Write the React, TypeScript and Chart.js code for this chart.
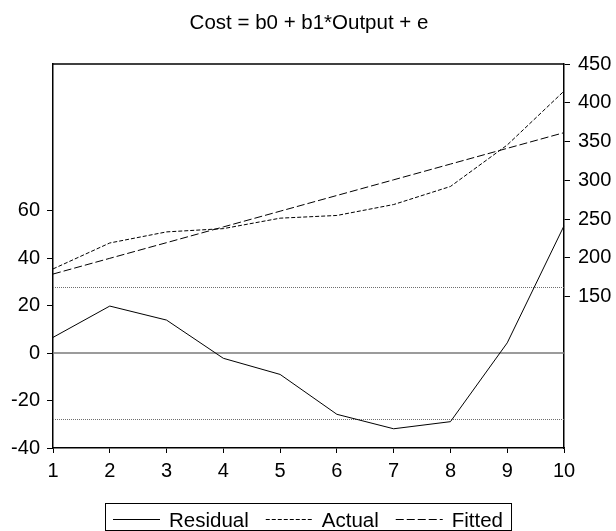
import React, { useEffect, useRef } from 'react';
import { Chart, registerables } from 'chart.js';

Chart.register(...registerables);

// ---------- data ----------
const categories = ['1', '2', '3', '4', '5', '6', '7', '8', '9', '10'];
const residual = [6.6, 19.8, 13.9, -2.2, -9.0, -25.8, -31.9, -28.9, 4.3, 53.6];
const actual = [185.6, 219.1, 233.4, 237.6, 251.1, 254.6, 268.7, 292.0, 345.5, 415.0];
const fitted = [179.0, 199.3, 219.5, 239.8, 260.1, 280.4, 300.6, 320.9, 341.2, 361.4];
const residualStdBand = 27.7;
const leftTicks = [-40, -20, 0, 20, 40, 60];
const rightTicks = [150, 200, 250, 300, 350, 400, 450];
const titleText = 'Cost = b0 + b1*Output + e';
const legendLabels = ['Residual', 'Actual', 'Fitted'];

const FONT_FAMILY = '"Liberation Sans", Arial, sans-serif';
const TICK_FONT_SIZE = 20;
const TEXT_FONT_SIZE = 20.5;
const dashes: number[][] = [[], [4, 2], [8, 3]];

const overlayPlugin = {
  id: 'eviewsOverlay',
  beforeDatasetsDraw(chart: any) {
    const { ctx, chartArea } = chart;
    const yL = chart.scales.yL;
    ctx.save();
    // zero line
    const y0 = yL.getPixelForValue(0);
    ctx.strokeStyle = '#7a7a7a';
    ctx.lineWidth = 1.5;
    ctx.setLineDash([]);
    ctx.beginPath();
    ctx.moveTo(chartArea.left, y0);
    ctx.lineTo(chartArea.right, y0);
    ctx.stroke();
    // +/- std band lines
    ctx.strokeStyle = '#6e6e6e';
    ctx.lineWidth = 1;
    ctx.setLineDash([1, 1]);
    [residualStdBand, -residualStdBand].forEach((v) => {
      const y = Math.round(yL.getPixelForValue(v)) + 0.5;
      ctx.beginPath();
      ctx.moveTo(chartArea.left, y);
      ctx.lineTo(chartArea.right, y);
      ctx.stroke();
    });
    ctx.restore();
  },
  afterDraw(chart: any) {
    const { ctx, chartArea, width } = chart;
    ctx.save();
    // top frame line
    ctx.strokeStyle = '#000';
    ctx.lineWidth = 1.5;
    ctx.setLineDash([]);
    ctx.beginPath();
    ctx.moveTo(chartArea.left, chartArea.top);
    ctx.lineTo(chartArea.right, chartArea.top);
    ctx.stroke();

    // title
    ctx.fillStyle = '#000';
    ctx.font = `${TEXT_FONT_SIZE}px ${FONT_FAMILY}`;
    ctx.textAlign = 'center';
    ctx.textBaseline = 'alphabetic';
    ctx.fillText(titleText, 309, 29);

    // legend
    const lineLen = 47;
    const gapLineText = 9;
    const gapItems = 17;
    ctx.textAlign = 'left';
    const widths = legendLabels.map((l) => ctx.measureText(l).width);
    let total = 0;
    widths.forEach((w, i) => {
      total += lineLen + gapLineText + w + (i < widths.length - 1 ? gapItems : 0);
    });
    let x = Math.round(width / 2 - total / 2);
    const lineY = 519.5;
    const boxPad = 8;
    ctx.lineWidth = 1;
    ctx.strokeStyle = '#000';
    ctx.strokeRect(x - boxPad + 0.5, 503.5, total + boxPad * 2, 27);
    legendLabels.forEach((label, i) => {
      ctx.setLineDash(dashes[i]);
      ctx.beginPath();
      ctx.moveTo(x, lineY);
      ctx.lineTo(x + lineLen, lineY);
      ctx.stroke();
      ctx.setLineDash([]);
      ctx.fillText(label, x + lineLen + gapLineText, 527);
      x += lineLen + gapLineText + widths[i] + gapItems;
    });
    ctx.restore();
  },
};

export default function App() {
  const canvasRef = useRef<HTMLCanvasElement | null>(null);

  useEffect(() => {
    if (!canvasRef.current) return;
    const tickFont = { family: FONT_FAMILY, size: TICK_FONT_SIZE };
    const chart = new Chart(canvasRef.current, {
      type: 'line',
      data: {
        labels: categories,
        datasets: [
          {
            label: legendLabels[0],
            data: residual,
            yAxisID: 'yL',
            borderColor: '#000',
            borderWidth: 1,
            pointRadius: 0,
            tension: 0,
            fill: false,
          },
          {
            label: legendLabels[1],
            data: actual,
            yAxisID: 'yR',
            borderColor: '#000',
            borderWidth: 1,
            borderDash: dashes[1],
            pointRadius: 0,
            tension: 0,
            fill: false,
          },
          {
            label: legendLabels[2],
            data: fitted,
            yAxisID: 'yR',
            borderColor: '#000',
            borderWidth: 1,
            borderDash: dashes[2],
            pointRadius: 0,
            tension: 0,
            fill: false,
          },
        ],
      },
      options: {
        responsive: false,
        animation: false,
        devicePixelRatio: 1,
        layout: { padding: { top: 64, left: 0, right: 0, bottom: 0 } },
        plugins: {
          legend: { display: false },
          title: { display: false },
          tooltip: { enabled: false },
        },
        scales: {
          x: {
            type: 'category',
            offset: false,
            grid: {
              display: true,
              drawOnChartArea: false,
              drawTicks: true,
              tickLength: 5,
              color: '#000',
            },
            border: { display: true, color: '#000', width: 1.5 },
            ticks: {
              color: '#000',
              font: tickFont,
              padding: 6,
              maxRotation: 0,
              autoSkip: false,
            },
            afterFit: (s: any) => {
              s.height = 83;
            },
          },
          yL: {
            type: 'linear',
            position: 'left',
            min: -40,
            max: 121.8,
            afterBuildTicks: (s: any) => {
              s.ticks = leftTicks.map((v) => ({ value: v }));
            },
            grid: {
              display: true,
              drawOnChartArea: false,
              drawTicks: true,
              tickLength: 6,
              color: '#000',
            },
            border: { display: true, color: '#000', width: 1.5 },
            ticks: { color: '#000', font: tickFont, padding: 7 },
            afterFit: (s: any) => {
              s.width = 53;
            },
          },
          yR: {
            type: 'linear',
            position: 'right',
            min: -45.4,
            max: 450,
            afterBuildTicks: (s: any) => {
              s.ticks = rightTicks.map((v) => ({ value: v }));
            },
            grid: {
              display: true,
              drawOnChartArea: false,
              drawTicks: true,
              tickLength: 6,
              color: '#000',
            },
            border: { display: true, color: '#000', width: 1.5 },
            ticks: { color: '#000', font: tickFont, padding: 8 },
            afterFit: (s: any) => {
              s.width = 52;
            },
          },
        },
      },
      plugins: [overlayPlugin],
    } as any);
    return () => chart.destroy();
  }, []);

  return (
    <div style={{ position: 'absolute', left: 0, top: 0, width: 616, height: 531, background: '#fff' }}>
      <canvas ref={canvasRef} width={616} height={531} style={{ display: 'block' }} />
    </div>
  );
}
